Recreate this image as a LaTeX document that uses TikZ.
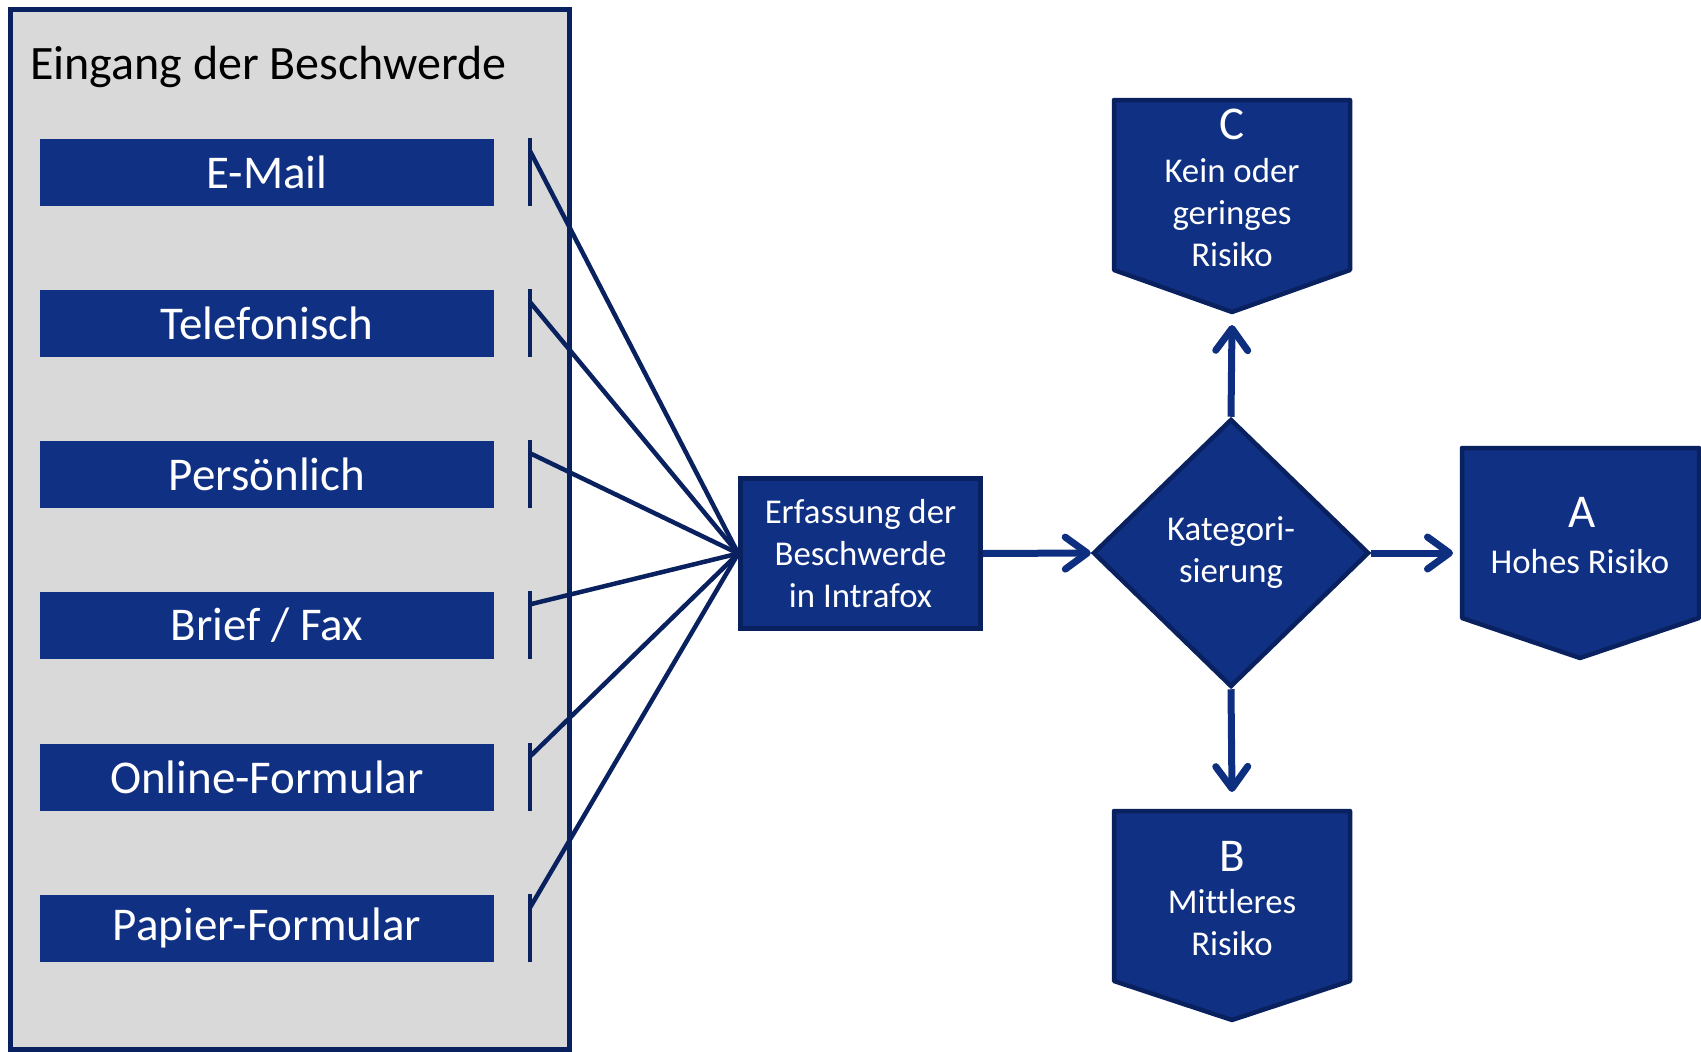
\documentclass[tikz,border=0pt]{standalone}
\usepackage{fontspec}
\setmainfont{Carlito}[Ligatures=NoCommon]
\usetikzlibrary{arrows.meta,shapes.geometric}

\definecolor{boxblue}{RGB}{16,48,132}
\definecolor{navy}{RGB}{10,33,96}
\definecolor{arrowblue}{RGB}{14,47,128}
\definecolor{panelgray}{RGB}{217,217,217}

\begin{document}
\begin{tikzpicture}[x=1pt,y=-1pt,
		inbox/.style={fill=boxblue, text=white, minimum width=454pt, minimum height=67pt, inner sep=0pt, font=\fontsize{47}{56}\selectfont},
		stepbox/.style={fill=boxblue, draw=navy, line width=4.5pt, text=white, align=center, minimum width=240pt, minimum height=150pt, inner sep=0pt, font=\fontsize{34.8}{42}\selectfont},
		decision/.style={diamond, aspect=1, fill=boxblue, draw=navy, line width=4.5pt, text=white, align=center, minimum width=276pt, minimum height=268pt, inner sep=0pt, font=\fontsize{34.8}{42}\selectfont},
		riskbox/.style={fill=boxblue, draw=navy, line width=4.5pt, line join=round},
		letter/.style={text=white, inner sep=0pt, font=\fontsize{47}{56}\selectfont},
		risktext/.style={text=white, inner sep=0pt, align=center, font=\fontsize{34.8}{42}\selectfont},
		bracket/.style={navy, line width=4.5pt},
		link/.style={navy, line width=4.5pt},
		flow/.style={arrowblue, line width=7pt, -{Straight Barb[length=22pt,width=32pt,round]}}]
			\useasboundingbox (0,0) rectangle (1701,1052);
			\draw[navy, line width=5pt, fill=panelgray] (10,9) rectangle (569,1049);
			\node[anchor=base west, inner sep=0pt, font=\fontsize{48}{58}\selectfont](title) at (30,79){Eingang der Beschwerde};
			\node[inbox](mail) at (267,172){E-Mail};
			\node[inbox](phone) at (267,323){Telefonisch};
			\node[inbox](person) at (267,474){Persönlich};
			\node[inbox](letterfax) at (267,625){Brief / Fax};
			\node[inbox](online) at (267,777){Online-Formular};
			\node[inbox](paper) at (267,928){Papier-Formular};
			\node[stepbox](erf) at (860.5,553.5){Erfassung der\\Beschwerde\\in Intrafox};
			\node[decision](kat) at (1231,553){Kategori-\\sierung};
			% risk classes
			\draw[riskbox] (1114,100) -- (1350,100) -- (1350,270) -- (1232,312) -- (1114,270) -- cycle;
			\node[letter](lc) at (1232,124){C};
			\node[risktext](tc) at (1232,213){Kein oder\\geringes\\Risiko};
			\draw[riskbox] (1462,448) -- (1699,448) -- (1699,618) -- (1580,658) -- (1462,618) -- cycle;
			\node[letter](la) at (1582,512){A};
			\node[risktext](ta) at (1580,562){Hohes Risiko};
			\draw[riskbox] (1114,811) -- (1350,811) -- (1350,981) -- (1232,1020) -- (1114,981) -- cycle;
			\node[letter](lb) at (1232,856){B};
			\node[risktext](tb) at (1232,923){Mittleres\\Risiko};
			\coordinate (cend) at (1232,325);
			\coordinate (aend) at (1453,553);
			\coordinate (bend) at (1232,792);
			% brackets and links
			\draw[bracket] ([xshift=36pt]mail.north east) -- ([xshift=36pt]mail.south east);
			\draw[bracket] ([xshift=36pt]phone.north east) -- ([xshift=36pt]phone.south east);
			\draw[bracket] ([xshift=36pt]person.north east) -- ([xshift=36pt]person.south east);
			\draw[bracket] ([xshift=36pt]letterfax.north east) -- ([xshift=36pt]letterfax.south east);
			\draw[bracket] ([xshift=36pt]online.north east) -- ([xshift=36pt]online.south east);
			\draw[bracket] ([xshift=36pt]paper.north east) -- ([xshift=36pt]paper.south east);
			\draw[link] ([xshift=36pt,yshift=-13pt]mail.north east) -- (erf.west);
			\draw[link] ([xshift=36pt,yshift=-13pt]phone.north east) -- (erf.west);
			\draw[link] ([xshift=36pt,yshift=-13pt]person.north east) -- (erf.west);
			\draw[link] ([xshift=36pt,yshift=-13pt]letterfax.north east) -- (erf.west);
			\draw[link] ([xshift=36pt,yshift=-13pt]online.north east) -- (erf.west);
			\draw[link] ([xshift=36pt,yshift=-13pt]paper.north east) -- (erf.west);
			\draw[flow] (erf.east) -- (kat.west);
			\draw[flow] (kat.north) -- (cend);
			\draw[flow] (kat.east) -- (aend);
			\draw[flow] (kat.south) -- (bend);
			\end{tikzpicture}
\end{document}
